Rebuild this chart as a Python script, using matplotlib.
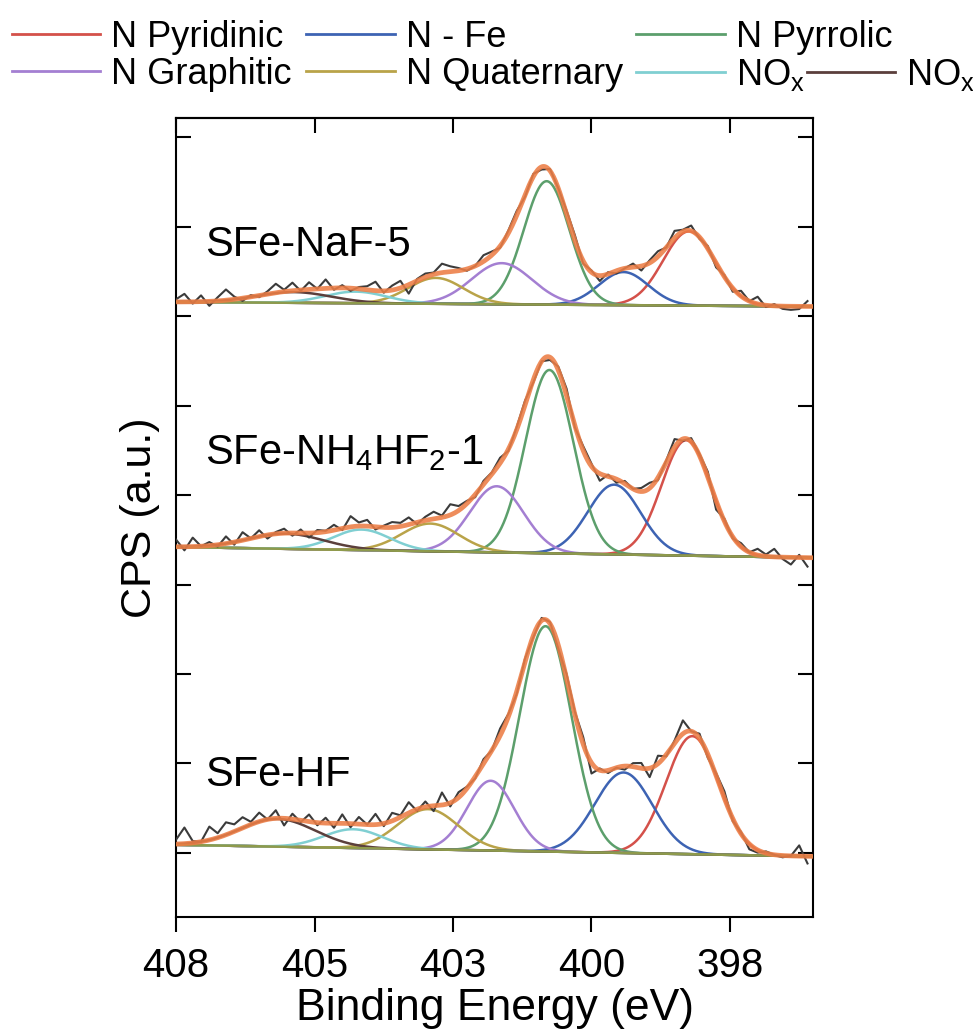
import numpy as np
import matplotlib.pyplot as plt
from matplotlib.lines import Line2D

plt.rcParams["font.family"] = ["Liberation Sans", "DejaVu Sans"]
plt.rcParams["mathtext.fontset"] = "custom"
plt.rcParams["mathtext.rm"] = "Liberation Sans"
plt.rcParams["mathtext.it"] = "Liberation Sans"

# components, in legend order
names = ["N Pyridinic", "N - Fe", "N Pyrrolic", "N Graphitic", "N Quaternary",
         r"NO$_\mathrm{x}$", r"NO$_\mathrm{x}$"]
colors = ["#d4514a", "#3d63b3", "#5c9f6c", "#a47fd2", "#b9a349", "#80cfd2", "#5b3f3c"]

# peak centre (eV), height and FWHM (y in tick units)
hf_center = [398.68, 399.92, 401.33, 402.32, 403.45, 404.80, 406.17]
hf_height = [1.32, 0.90, 2.52, 0.78, 0.45, 0.21, 0.31]
hf_fwhm = [1.12, 1.22, 1.10, 1.00, 1.28, 1.25, 1.60]
hf_base = [0.09, -0.04]

nh_center = [398.79, 400.09, 401.26, 402.21, 403.41, 404.65, 406.02]
nh_height = [1.29, 0.78, 2.05, 0.74, 0.31, 0.23, 0.17]
nh_fwhm = [1.05, 1.12, 1.02, 1.14, 1.22, 1.20, 1.60]
nh_base = [3.42, 3.30]

naf_center = [398.74, 399.92, 401.31, 402.12, 403.31, 404.76, 405.88]
naf_height = [0.83, 0.37, 1.38, 0.46, 0.29, 0.13, 0.12]
naf_fwhm = [1.10, 1.05, 0.97, 1.28, 1.17, 1.30, 1.60]
naf_base = [6.16, 6.11]

# raw spectrum: deviation from the fit every 0.15 eV from 408 down (x0.01 units)
raw_step = 0.15
hf_resid = [5, 18, 2, 0, 15, 5, 14, 8, 12, 3, 10, 0, 9, -8, 6, -2, 8, -3, 6, -5,
            10, -4, 8, 0, 12, -3, 9, 2, 12, -2, 6, -6, 14, -4, 6, 2, -2, 5, 0, 8,
            3, -3, 4, -2, 3, 2, -4, 5, 3, 8, -12, 2, -3, 0, -4, 4, 6, -10, 9, -2,
            3, 15, 0, 5, -4, 3, 8, -3, 2, -6, -3, 2, 0, -2, 0, 12, -8]
nh_resid = [8, -4, 10, 0, 4, -2, 8, -3, 9, 0, 7, -4, 2, 5, -3, 4, -5, 3, 1, 6,
            -2, 12, 4, 7, -3, 2, 6, 4, 8, -2, 4, 8, 2, 12, 5, 3, -3, 4, 2, 6,
            -2, 3, 5, -3, 0, -3, 4, 8, -2, 5, 3, -8, 2, -4, 3, 0, 4, 6, -3, 2,
            9, -2, 4, 2, 6, -10, 3, -2, 4, 0, 7, 2, 9, -2, -8, 3, -10]
naf_resid = [3, 9, -2, 7, -5, 4, 12, 3, -3, 2, -2, 3, 10, 2, 9, -1, 8, 0, 10, -2,
             3, -3, 2, 4, 10, -2, 5, 8, -10, 2, 4, 2, 10, 6, 3, -2, 0, 7, 4, -2,
             3, 5, -2, 3, -3, 2, 0, 4, 6, -3, 2, -6, 2, -3, 0, 4, -5, 3, 6, 0,
             8, 2, 6, -2, 3, -5, 2, -4, 6, 0, 8, -2, 2, -3, -4, -3, 6]

samples = ["SFe-HF", r"SFe-NH$_4$HF$_2$-1", "SFe-NaF-5"]
label_y = [0.87, 4.47, 6.80]

xticks = [408, 405.5, 403, 400.5, 398]
xticklabels = ["408", "405", "403", "400", "398"]
x_lo, x_hi = 408, 396.5


def gauss(x, c, h, fwhm):
    s = fwhm / 2.3548
    return h * np.exp(-(x - c) ** 2 / (2 * s ** 2))


def draw_panel(ax, centers, heights, fwhms, base, resid):
    x = np.linspace(x_lo, x_hi, 600)
    bl = np.interp(x, [x_hi, x_lo], [base[1], base[0]])
    total = bl.copy()
    for c, h, w, col in zip(centers, heights, fwhms, colors):
        comp = gauss(x, c, h, w)
        total += comp
        ax.plot(x, bl + comp, color=col, lw=1.8, zorder=2)
    ax.plot(x, bl, color="#8e9a4c", lw=1.8, zorder=3)

    xr = x_lo - raw_step * np.arange(len(resid))
    fit_r = np.interp(xr, x[::-1], total[::-1])
    ax.plot(xr, fit_r + np.array(resid) / 100.0, color="#3b3b3b", lw=1.5, zorder=4)
    ax.plot(x, total, color="#ec7d45", lw=3.4, alpha=0.88, zorder=5)


fig = plt.figure(figsize=(9.73, 10.36), dpi=100)
ax = fig.add_axes([0.181, 0.115, 0.6546, 0.7713])

draw_panel(ax, hf_center, hf_height, hf_fwhm, hf_base, hf_resid)
draw_panel(ax, nh_center, nh_height, nh_fwhm, nh_base, nh_resid)
draw_panel(ax, naf_center, naf_height, naf_fwhm, naf_base, naf_resid)

for s, yy in zip(samples, label_y):
    ax.text(407.48, yy, s, fontsize=30, va="center", ha="left")

ax.set_xlim(x_lo, x_hi)
ax.set_ylim(-0.716, 8.22)
ax.set_xticks(xticks)
ax.set_xticklabels(xticklabels)
ax.set_yticks(range(9))
ax.set_yticklabels([])
ax.tick_params(axis="x", direction="out", length=11, width=1.5, labelsize=29, pad=11)
ax.tick_params(axis="y", direction="in", length=11, width=1.5, right=True)
top = ax.secondary_xaxis("top")
top.set_xticks(xticks)
top.tick_params(direction="in", length=11, width=1.5, labeltop=False)
for sp in ax.spines.values():
    sp.set_linewidth(1.5)
top.spines["top"].set_linewidth(1.5)

ax.set_xlabel("Binding Energy (eV)", fontsize=32, labelpad=2)
ax.set_ylabel("CPS (a.u.)", fontsize=31, labelpad=8)

# legend laid out entry by entry as in the figure
leg_pos = [(0.012, 0.964), (0.315, 0.964), (0.654, 0.964),
           (0.012, 0.928), (0.315, 0.928), (0.654, 0.928), (0.829, 0.928)]
for name, col, (lx, ly) in zip(names, colors, leg_pos):
    fig.legend([Line2D([], [], color=col, lw=2)], [name], loc="center left",
               bbox_to_anchor=(lx, ly), frameon=False, fontsize=26,
               handlelength=2.45, handletextpad=0.3, borderaxespad=0, borderpad=0)

fig.savefig("out.png", dpi=100)
